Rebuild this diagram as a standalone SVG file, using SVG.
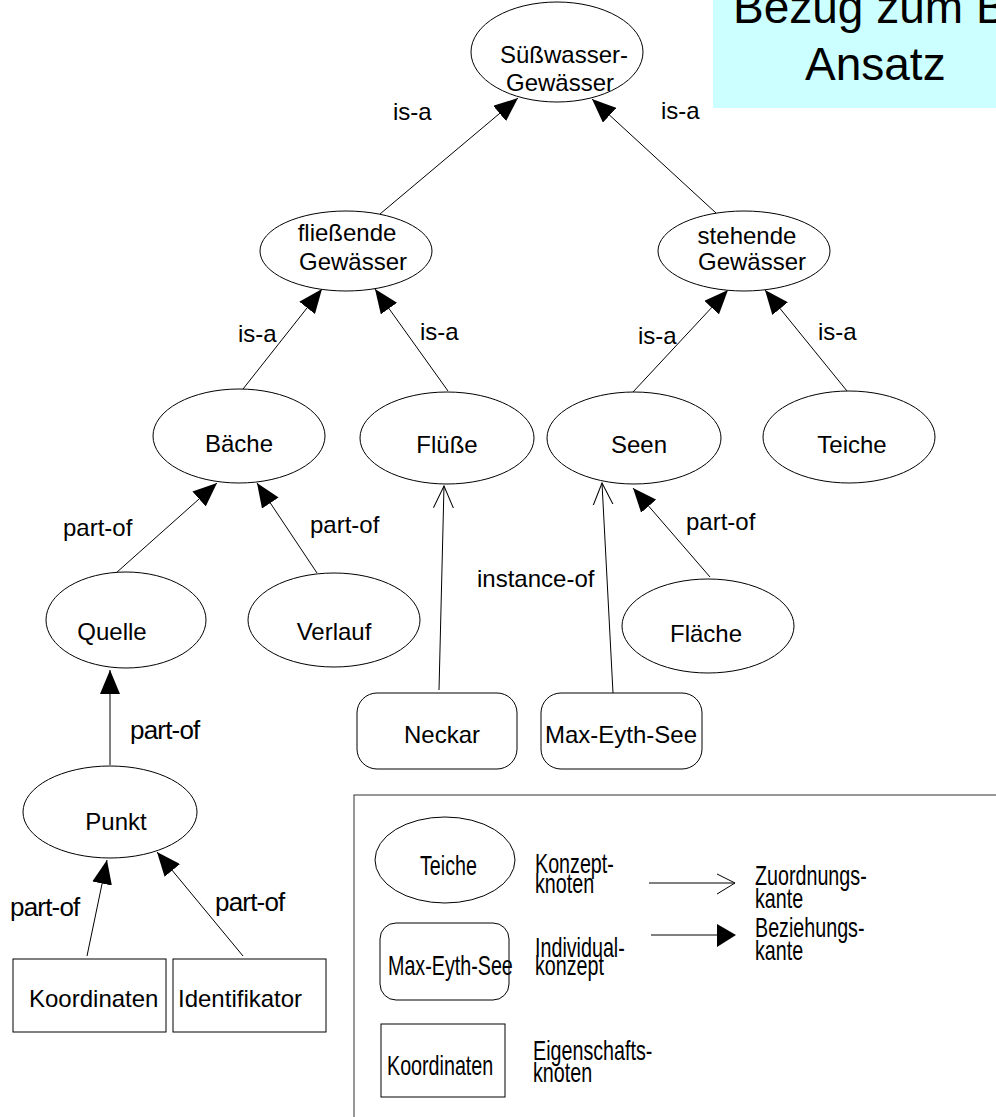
<svg xmlns="http://www.w3.org/2000/svg" width="996" height="1117" viewBox="0 0 996 1117">
  <defs>
    <!-- filled head: relation edge -->
    <marker id="rel" markerUnits="userSpaceOnUse" markerWidth="24" markerHeight="20" refX="24" refY="10" orient="auto">
      <path d="M0,0 L24,10 L0,20 Z" fill="#000"/>
    </marker>
    <!-- open head: assignment edge -->
    <marker id="inst" markerUnits="userSpaceOnUse" markerWidth="24" markerHeight="22" refX="22" refY="11" orient="auto">
      <path d="M0,1 L22,11 L0,21" fill="none" stroke="#000" stroke-width="1"/>
    </marker>
    <style>
      text { font-family: "Liberation Sans", Arial, sans-serif; fill: #000; }
      .node { fill: #fff; stroke: #000; stroke-width: 1; }
      .lbl { font-size: 24px; }
      .mid { text-anchor: middle; }
      .tight { font-size: 26px; letter-spacing: -0.8px; }
      .edge { stroke: #000; stroke-width: 1; fill: none; }
      .rel { marker-end: url(#rel); }
      .inst { marker-end: url(#inst); }
      .leg { font-size: 27px; }
      .title { font-size: 46px; }
    </style>
  </defs>

  <rect width="996" height="1117" fill="#fff"/>

  <!-- heading panel -->
  <g id="heading">
    <rect x="713" y="-2" width="290" height="110" fill="#ccffff"/>
    <text class="title" x="733" y="23">Bezug zum B</text>
    <text class="title" x="805" y="80">Ansatz</text>
  </g>

  <!-- connectors -->
  <g id="connectors">
    <line class="edge rel" x1="380" y1="214" x2="518" y2="98"/>
    <line class="edge rel" x1="716" y1="213" x2="592" y2="99"/>
    <line class="edge rel" x1="243" y1="389" x2="322" y2="289"/>
    <line class="edge rel" x1="448" y1="391" x2="375" y2="289"/>
    <line class="edge rel" x1="633" y1="392" x2="728" y2="290"/>
    <line class="edge rel" x1="847" y1="391" x2="765" y2="290"/>
    <line class="edge rel" x1="116" y1="573" x2="217" y2="483"/>
    <line class="edge rel" x1="317" y1="573" x2="257" y2="483"/>
    <line class="edge inst" x1="439" y1="690" x2="444" y2="486"/>
    <line class="edge inst" x1="613" y1="693" x2="602" y2="483"/>
    <line class="edge rel" x1="710" y1="577" x2="633" y2="488"/>
    <line class="edge rel" x1="110" y1="765" x2="110" y2="670"/>
    <line class="edge rel" x1="87" y1="956" x2="107" y2="860"/>
    <line class="edge rel" x1="243" y1="956" x2="157" y2="852"/>

    <text class="lbl" x="393" y="120">is-a</text>
    <text class="lbl" x="661" y="119">is-a</text>
    <text class="lbl" x="238" y="342">is-a</text>
    <text class="lbl" x="420" y="340">is-a</text>
    <text class="lbl" x="638" y="344">is-a</text>
    <text class="lbl" x="818" y="340">is-a</text>
    <text class="lbl" x="63" y="536">part-of</text>
    <text class="lbl" x="310" y="533">part-of</text>
    <text class="lbl" x="686" y="530">part-of</text>
    <text class="lbl" x="477" y="587">instance-of</text>
    <text class="tight" x="130" y="739">part-of</text>
    <text class="tight" x="10" y="916">part-of</text>
    <text class="tight" x="215" y="911">part-of</text>
  </g>

  <g id="suesswasser">
    <ellipse class="node" cx="557" cy="52" rx="86" ry="50"/>
    <text class="lbl mid" x="564" y="63">Süßwasser-</text>
    <text class="lbl mid" x="560" y="91">Gewässer</text>
  </g>
  <g id="fliessende">
    <ellipse class="node" cx="346" cy="251" rx="86" ry="40"/>
    <text class="lbl mid" x="347" y="241">fließende</text>
    <text class="lbl mid" x="353" y="270">Gewässer</text>
  </g>
  <g id="stehende">
    <ellipse class="node" cx="744" cy="251" rx="86" ry="40"/>
    <text class="lbl mid" x="747" y="244">stehende</text>
    <text class="lbl mid" x="752" y="270">Gewässer</text>
  </g>
  <g id="baeche">
    <ellipse class="node" cx="239" cy="436" rx="86" ry="47"/>
    <text class="lbl mid" x="239" y="452">Bäche</text>
  </g>
  <g id="fluesse">
    <ellipse class="node" cx="447" cy="438" rx="87" ry="46"/>
    <text class="lbl mid" x="447" y="453">Flüße</text>
  </g>
  <g id="seen">
    <ellipse class="node" cx="634" cy="438" rx="87" ry="46"/>
    <text class="lbl mid" x="639" y="453">Seen</text>
  </g>
  <g id="teiche">
    <ellipse class="node" cx="849" cy="437" rx="86" ry="46"/>
    <text class="lbl mid" x="852" y="453">Teiche</text>
  </g>
  <g id="quelle">
    <ellipse class="node" cx="126" cy="620" rx="80" ry="48"/>
    <text class="lbl mid" x="112" y="640">Quelle</text>
  </g>
  <g id="verlauf">
    <ellipse class="node" cx="334" cy="620" rx="86" ry="47"/>
    <text class="lbl mid" x="334" y="640">Verlauf</text>
  </g>
  <g id="flaeche">
    <ellipse class="node" cx="708" cy="626" rx="86" ry="47"/>
    <text class="lbl mid" x="706" y="642">Fläche</text>
  </g>
  <g id="neckar">
    <rect class="node" x="357" y="693" width="160" height="76" rx="20"/>
    <text class="lbl mid" x="442" y="743">Neckar</text>
  </g>
  <g id="maxeyth">
    <rect class="node" x="541" y="693" width="161" height="76" rx="20"/>
    <text class="lbl" x="545" y="743">Max-Eyth-See</text>
  </g>
  <g id="punkt">
    <ellipse class="node" cx="110" cy="812" rx="87" ry="46"/>
    <text class="lbl mid" x="116" y="830">Punkt</text>
  </g>
  <g id="koordinaten">
    <rect class="node" x="13" y="959" width="153" height="73"/>
    <text class="lbl" x="29" y="1007">Koordinaten</text>
  </g>
  <g id="identifikator">
    <rect class="node" x="173" y="959" width="153" height="73"/>
    <text class="lbl" x="178" y="1007">Identifikator</text>
  </g>

  <!-- legend -->
  <g id="legend">
    <rect x="354" y="795" width="660" height="340" fill="none" stroke="#333" stroke-width="1"/>
    <ellipse class="node" cx="445" cy="860" rx="70" ry="43"/>
    <text class="leg" transform="translate(420,875) scale(0.73,1)">Teiche</text>
    <text class="leg" transform="translate(535,873) scale(0.73,1)">Konzept-</text>
    <text class="leg" transform="translate(535,893) scale(0.73,1)">knoten</text>
    <line class="edge" x1="649" y1="883" x2="735" y2="883"/>
    <path class="edge" d="M717,874 L735,883 L717,894"/>
    <text class="leg" transform="translate(755,885) scale(0.73,1)">Zuordnungs-</text>
    <text class="leg" transform="translate(755,908) scale(0.73,1)">kante</text>

    <rect class="node" x="380" y="923" width="129" height="77" rx="16"/>
    <text class="leg" transform="translate(388,975) scale(0.73,1)">Max-Eyth-See</text>
    <text class="leg" transform="translate(535,957) scale(0.73,1)">Individual-</text>
    <text class="leg" transform="translate(535,975) scale(0.73,1)">konzept</text>
    <line class="edge" x1="651" y1="935" x2="718" y2="935"/>
    <path d="M717,924 L736,935 L717,947 Z" fill="#000"/>
    <text class="leg" transform="translate(755,937) scale(0.73,1)">Beziehungs-</text>
    <text class="leg" transform="translate(755,960) scale(0.73,1)">kante</text>

    <rect class="node" x="381" y="1024" width="124" height="73"/>
    <text class="leg" transform="translate(387,1075) scale(0.73,1)">Koordinaten</text>
    <text class="leg" transform="translate(533,1060) scale(0.73,1)">Eigenschafts-</text>
    <text class="leg" transform="translate(533,1082) scale(0.73,1)">knoten</text>
  </g>
</svg>
